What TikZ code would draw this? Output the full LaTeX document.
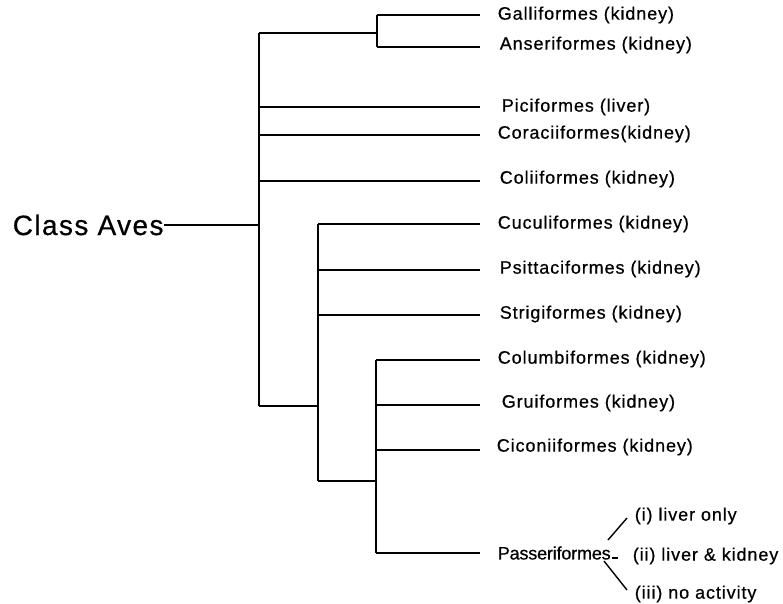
\documentclass[tikz,border=0pt]{standalone}
\usepackage{fontspec}
\setmainfont[LetterSpace=5,FakeBold=0.6]{Liberation Sans}
\begin{document}
\begin{tikzpicture}[x=1pt,y=-1pt,line width=1.6pt,
  leaf/.style={anchor=west,inner sep=0pt,font=\fontsize{18}{20}\selectfont},
  big/.style={anchor=west,inner sep=0pt,font=\fontsize{28}{32}\selectfont},
  thin/.style={line width=1.4pt}]
\useasboundingbox (0,0) rectangle (783,603);
% junctions
\coordinate (rootTop) at (259,33);
\coordinate (rootBot) at (259,406);
\coordinate (rootMid) at (259,225);
\coordinate (gaTop) at (377,15);
\coordinate (gaBot) at (377,47);
\coordinate (cuTop) at (318,224);
\coordinate (cuBot) at (318,481);
\coordinate (coTop) at (376,360);
\coordinate (coBot) at (376,553);
% texts
\node[big] (aves) at (12,225) {Class Aves};
\node[leaf] (galli) at (497,15) {Galliformes (kidney)};
\node[leaf] (anser) at (499,45) {Anseriformes (kidney)};
\node[leaf] (pici) at (501,107) {Piciformes (liver)};
\node[leaf] (corac) at (497,134) {Coraciiformes(kidney)};
\node[leaf] (colii) at (499,179) {Coliiformes (kidney)};
\node[leaf] (cuculi) at (497,224) {Cuculiformes (kidney)};
\node[leaf] (psitt) at (499,269) {Psittaciformes (kidney)};
\node[leaf] (strig) at (499,314) {Strigiformes (kidney)};
\node[leaf] (columb) at (497,359) {Columbiformes (kidney)};
\node[leaf] (grui) at (501,403) {Gruiformes (kidney)};
\node[leaf] (cicon) at (496,447) {Ciconiiformes (kidney)};
\node[leaf] (passer) at (497,553) {\addfontfeature{LetterSpace=-1}Passeriformes};
\node[leaf] (liv) at (634,516) {(i) liver only};
\node[leaf] (livk) at (632,556) {(ii) liver \& kidney};
\node[leaf] (noact) at (634,594) {(iii) no activity};
% tree
\draw (aves.east) -- (aves.east -| rootMid);
\draw (rootTop) -- (rootBot);
\draw (rootTop) -- (rootTop -| gaTop);
\draw (gaTop) -- (gaBot);
\draw (gaTop) -- (480,15);
\draw (gaBot) -- (480,47);
\draw (259,107) -- (480,107);
\draw (259,135) -- (480,135);
\draw (259,181) -- (480,181);
\draw (rootBot) -- (rootBot -| cuTop);
\draw (cuTop) -- (cuBot);
\draw (cuTop) -- (480,224);
\draw (318,270) -- (480,270);
\draw (318,315) -- (480,315);
\draw (cuBot) -- (cuBot -| coTop);
\draw (coTop) -- (coBot);
\draw (coTop) -- (480,360);
\draw (376,405) -- (480,405);
\draw (376,450) -- (480,450);
\draw (coBot) -- (480,553);
% passeriformes branches
\draw[thin] ([xshift=1pt,yshift=-5pt]passer.east) -- ++(6,0);
\draw[thin] (608,540) -- (627,518);
\draw[thin] (604,561) -- (627,590);
\end{tikzpicture}
\end{document}
